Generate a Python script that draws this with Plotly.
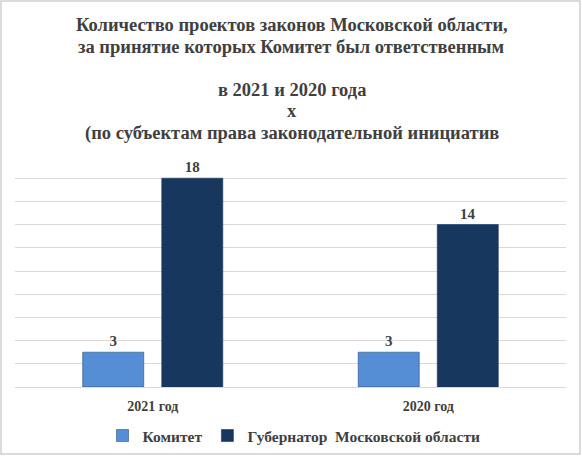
import plotly.graph_objects as go

years = ['2021 год', '2020 год']
komitet = [3, 3]
gubernator = [18, 14]
series_names = ['Комитет', 'Губернатор  Московской области']
title_lines = ['Количество проектов законов Московской области,',
               'за принятие которых Комитет был ответственным',
               '',
               'в 2021 и 2020 года',
               'х',
               '(по субъектам права законодательной инициатив']

W, H = 582, 456
ml, mr, mt, mb = 15, 16, 155, 69
pw, ph = W - ml - mr, H - mt - mb
serif = 'Liberation Serif'
txt = '#404040'


def px_x(p):
    return (p - ml) / pw


def px_y(p):
    return (H - p - mb) / ph


fig = go.Figure()
fig.add_trace(go.Bar(
    name='<b>%s</b>' % series_names[0], x=years, y=komitet,
    marker=dict(color='#558ED5', line=dict(color='#2E4E7E', width=0.6)),
    text=['<b>%d</b>' % v for v in komitet], textposition='outside', cliponaxis=False,
    textfont=dict(family=serif, size=15, color=txt),
))
fig.add_trace(go.Bar(
    name='<b>%s</b>' % series_names[1], x=years, y=gubernator,
    marker=dict(color='#17375E', line=dict(color='#17375E', width=0.6)),
    text=['<b>%d</b>' % v for v in gubernator], textposition='outside', cliponaxis=False,
    textfont=dict(family=serif, size=15, color=txt),
))

# title drawn line by line so the line spacing matches
title_ann = []
for i, line in enumerate(title_lines):
    if not line:
        continue
    title_ann.append(dict(text='<b>%s</b>' % line, xref='paper', yref='paper',
                          x=px_x(291.5), y=px_y(25 + 21.6 * i),
                          xanchor='center', yanchor='middle', showarrow=False,
                          font=dict(family=serif, size=18.5, color=txt)))

fig.update_layout(
    width=W, height=H,
    margin=dict(l=ml, r=mr, t=mt, b=mb, autoexpand=False),
    paper_bgcolor='white', plot_bgcolor='white',
    barmode='group', bargap=0.426, bargroupgap=0.228,
    showlegend=True,
    legend=dict(orientation='h', x=px_x(294), xanchor='center', y=px_y(436), yanchor='middle',
                font=dict(family=serif, size=15.5, color=txt),
                itemwidth=30, traceorder='normal'),
    font=dict(family=serif),
    annotations=title_ann,
    shapes=[dict(type='rect', xref='paper', yref='paper',
                 x0=px_x(1), x1=px_x(580), y0=px_y(454), y1=px_y(1),
                 line=dict(color='#CFCFCF', width=1.5), fillcolor='rgba(0,0,0,0)')],
)
fig.update_xaxes(showline=True, linecolor='#D9D9D9', linewidth=1,
                 ticks='outside', ticklen=6, tickcolor='white',
                 tickfont=dict(family=serif, size=14, color=txt),
                 tickprefix='<b>', ticksuffix='</b>')
fig.update_yaxes(range=[0, 20], dtick=2, showticklabels=False,
                 showgrid=True, gridcolor='#D9D9D9', gridwidth=1, zeroline=False)

fig.write_html('out.html', config={'displayModeBar': False},
               post_script="document.body.style.margin='0';")
